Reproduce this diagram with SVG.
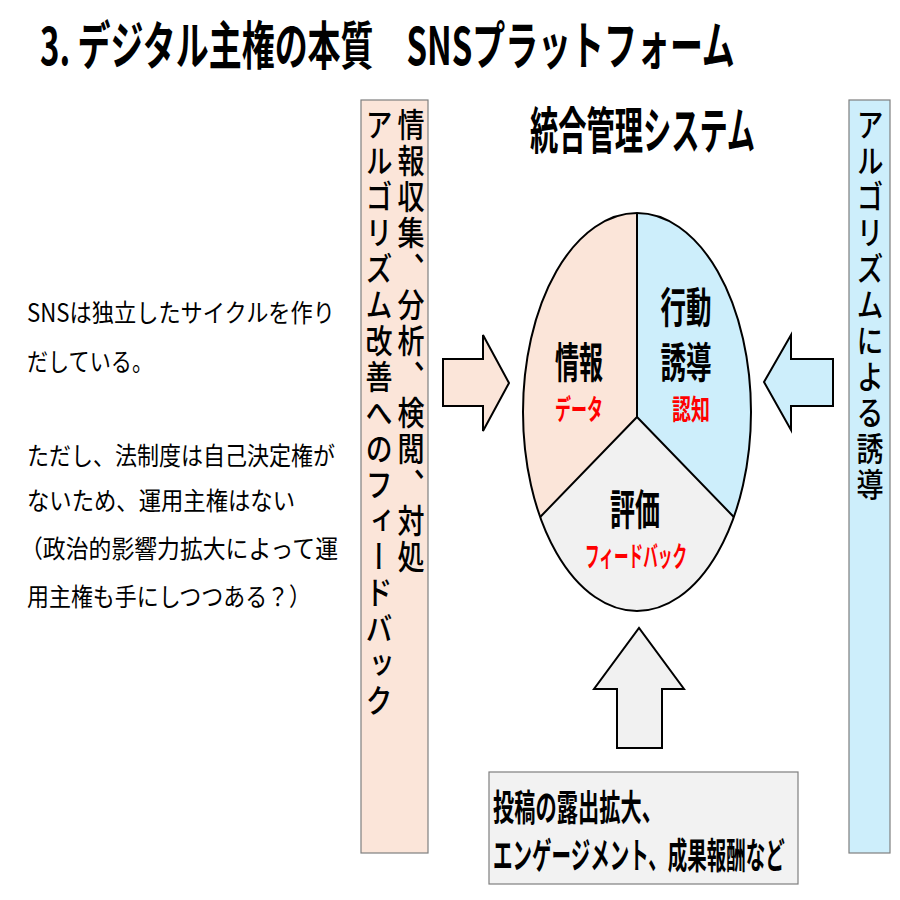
<svg xmlns="http://www.w3.org/2000/svg" width="900" height="900" viewBox="0 0 900 900">
<style>
.jp{font-family:"Noto Sans CJK JP","Liberation Sans",sans-serif;}
.b{font-weight:700;}
.m{font-weight:500;}
.red{fill:#ff0000;}
.blk{fill:#000;}
.box{stroke:#7f7f7f;stroke-width:1.2;}
.arr{stroke:#000;stroke-width:2;stroke-linejoin:miter;}
.vt{writing-mode:vertical-rl;font-size:33px;letter-spacing:3px;font-weight:500;}
</style>
<rect width="900" height="900" fill="#fff"/>
<g id="title">
<g transform="translate(40,65) scale(0.6,1)"><text class="jp b" x="0" y="0" font-size="52" textLength="1158" lengthAdjust="spacingAndGlyphs">3. デジタル主権の本質　SNSプラットフォーム</text></g>
</g>
<g id="system-title">
<g transform="translate(530,149) scale(0.56,1)"><text class="jp b" x="0" y="0" font-size="50" textLength="402" lengthAdjust="spacingAndGlyphs">統合管理システム</text></g>
</g>
<g id="note">
<text class="jp" font-size="25" x="27" y="322" textLength="308" lengthAdjust="spacingAndGlyphs">SNSは独立したサイクルを作り</text>
<text class="jp" font-size="25" x="27" y="371" textLength="126" lengthAdjust="spacingAndGlyphs">だしている。</text>
<text class="jp" font-size="25" x="27" y="465" textLength="308" lengthAdjust="spacingAndGlyphs">ただし、法制度は自己決定権が</text>
<text class="jp" font-size="25" x="27" y="510" textLength="268" lengthAdjust="spacingAndGlyphs">ないため、運用主権はない</text>
<text class="jp" font-size="25" x="20" y="558" textLength="318" lengthAdjust="spacingAndGlyphs">（政治的影響力拡大によって運</text>
<text class="jp" font-size="25" x="27" y="606" textLength="284" lengthAdjust="spacingAndGlyphs">用主権も手にしつつある？）</text>
</g>
<g id="collect-box">
<rect class="box" x="361" y="100" width="67" height="753" fill="#fbe5d9"/>
<g transform="translate(411,0) scale(0.82,1)"><text class="jp vt" x="0" y="108">情報収集、分析、検閲、対処</text></g>
<g transform="translate(379,0) scale(0.82,1)"><text class="jp vt" x="0" y="108">アルゴリズム改善へのフィードバック</text></g>
</g>
<g id="guide-box">
<rect class="box" x="849" y="100" width="41" height="753" fill="#cdeefb"/>
<g transform="translate(870,0) scale(0.82,1)"><text class="jp vt" x="0" y="108">アルゴリズムによる誘導</text></g>
</g>
<g id="cycle">
<path d="M637,417 L637,213 A114,199 0 0 0 540.2,517 Z" fill="#fbe5d9"/>
<path d="M637,417 L637,213 A114,199 0 0 1 733.8,517 Z" fill="#cdeefb"/>
<path d="M637,417 L540.2,517 A114,199 0 0 0 733.8,517 Z" fill="#f1f1f1"/>
<ellipse cx="637" cy="412" rx="114" ry="199" fill="none" stroke="#000" stroke-width="2"/>
<path d="M637,213 L637,417 M540.2,517 L637,417 L733.8,517" fill="none" stroke="#000" stroke-width="2"/>
</g>
<g id="info">
<text class="jp b blk" x="579" y="378" font-size="42" text-anchor="middle" textLength="48" lengthAdjust="spacingAndGlyphs">情報</text>
<text class="jp b red" x="579" y="420" font-size="28" text-anchor="middle" textLength="48" lengthAdjust="spacingAndGlyphs">データ</text>
</g>
<g id="action">
<text class="jp b blk" x="686" y="323" font-size="42" text-anchor="middle" textLength="51" lengthAdjust="spacingAndGlyphs">行動</text>
<text class="jp b blk" x="686" y="378" font-size="42" text-anchor="middle" textLength="51" lengthAdjust="spacingAndGlyphs">誘導</text>
<text class="jp b red" x="691" y="420" font-size="28" text-anchor="middle" textLength="38" lengthAdjust="spacingAndGlyphs">認知</text>
</g>
<g id="evaluation">
<text class="jp b blk" x="635" y="525" font-size="42" text-anchor="middle" textLength="50" lengthAdjust="spacingAndGlyphs">評価</text>
<text class="jp b red" x="636" y="567" font-size="28" text-anchor="middle" textLength="102" lengthAdjust="spacingAndGlyphs">フィードバック</text>
</g>
<g id="engagement-box">
<rect class="box" x="489" y="772" width="309" height="112" fill="#f2f2f2"/>
<g transform="translate(493,821) scale(0.57,1)"><text class="jp b" x="0" y="0" font-size="36" textLength="298" lengthAdjust="spacingAndGlyphs">投稿の露出拡大、</text></g>
<g transform="translate(493,869) scale(0.57,1)"><text class="jp b" x="0" y="0" font-size="36" textLength="512" lengthAdjust="spacingAndGlyphs">エンゲージメント、成果報酬など</text></g>
</g>
<g id="connectors">
<polygon class="arr" fill="#fbe5d9" points="443,359 483,359 483,335 509,383 483,431 483,406 443,406"/>
<polygon class="arr" fill="#cdeefb" points="833,359 791,359 791,335 764,382 791,430 791,406 833,406"/>
<polygon class="arr" fill="#f1f1f1" points="617,748 617,689 594,689 639,628 684,689 662,689 662,748"/>
</g>
</svg>
